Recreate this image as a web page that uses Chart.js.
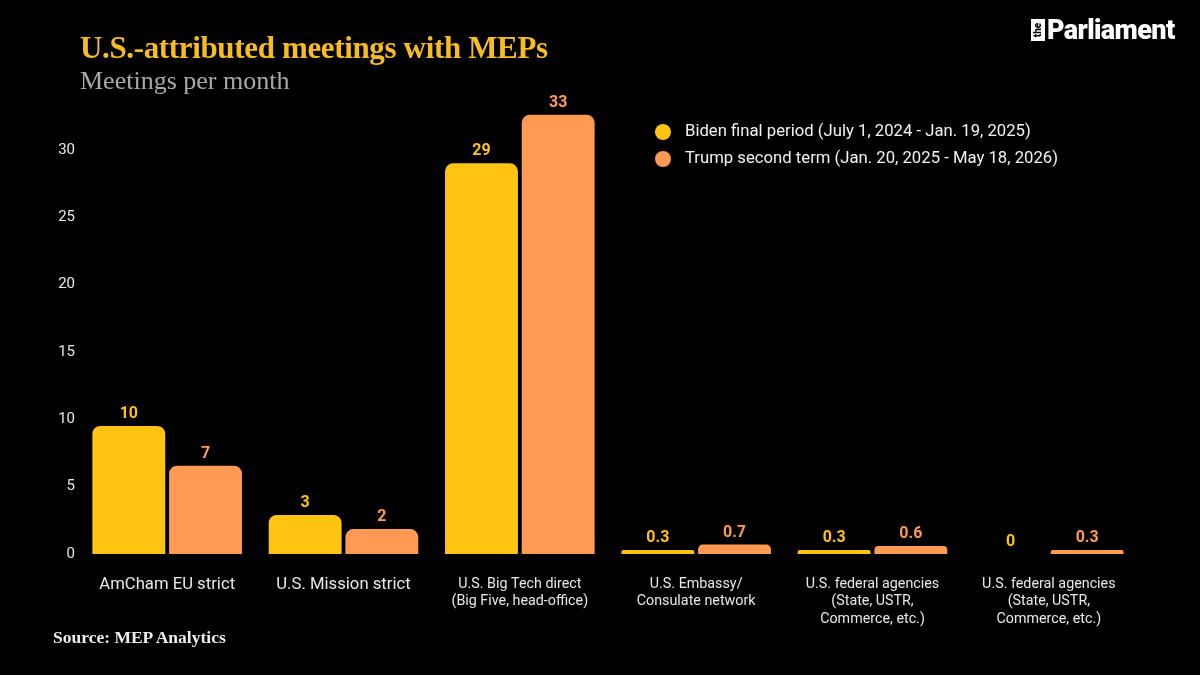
<!DOCTYPE html>
<html>
<head>
<meta charset="utf-8">
<script src="https://cdn.jsdelivr.net/npm/chart.js@4.4.1/dist/chart.umd.min.js"></script>
<style>
  html, body { margin: 0; padding: 0; background: #000; }
  #wrap { position: relative; width: 1200px; height: 675px; background: #000; overflow: hidden; }
  #c { position: absolute; left: 0; top: 0; }
  .title { position: absolute; left: 80px; top: 30px; font-family: 'Liberation Serif', serif; font-weight: bold; font-size: 31px; color: #F7BC22; letter-spacing: -0.35px; white-space: nowrap; }
  .sub { position: absolute; left: 80px; top: 66px; font-family: 'Liberation Serif', serif; font-size: 26px; color: #A9A9A9; white-space: nowrap; }
  .source { position: absolute; left: 53px; top: 627px; font-family: 'Liberation Serif', serif; font-weight: bold; font-size: 17.5px; color: #EDEDED; white-space: nowrap; }
  .logo { position: absolute; left: 1031px; top: 18px; height: 24px; display: flex; align-items: center; }
  .logo .the { width: 14px; height: 22px; background: #fff; position: relative; margin-right: 2px; }
  .logo .the span { position: absolute; left: 50%; top: 50%; transform: translate(-50%, -50%) rotate(-90deg); font-family: Roboto, sans-serif; font-weight: 900; font-size: 10px; color: #000; line-height: 1; }
  .logo .name { font-family: Roboto, sans-serif; font-weight: 900; font-size: 27px; color: #fff; letter-spacing: -0.6px; line-height: 1; }
</style>
</head>
<body>
<div id="wrap">
  <canvas id="c" width="1200" height="675"></canvas>
  <div class="title">U.S.-attributed meetings with MEPs</div>
  <div class="sub">Meetings per month</div>
  <div class="source">Source: MEP Analytics</div>
  <div class="logo"><div class="the"><span>the</span></div><div class="name">Parliament</div></div>
</div>
<script>
const categories = [
  'AmCham EU strict',
  'U.S. Mission strict',
  ['U.S. Big Tech direct', '(Big Five, head-office)'],
  ['U.S. Embassy/', 'Consulate network'],
  ['U.S. federal agencies', '(State, USTR,', 'Commerce, etc.)'],
  ['U.S. federal agencies', '(State, USTR,', 'Commerce, etc.)']
];
const bidenValues = [9.5, 2.9, 29.0, 0.3, 0.3, 0];
const trumpValues = [6.55, 1.85, 32.6, 0.7, 0.6, 0.3];
const seriesNames = [
  'Biden final period (July 1, 2024 - Jan. 19, 2025)',
  'Trump second term (Jan. 20, 2025 - May 18, 2026)'
];
const yTickStep = 5;
const yMax = 34;

const YELLOW = '#FFC412';
const ORANGE = '#FF9A55';

function fmt(v) {
  if (v === 0) return '0';
  if (v >= 1) return String(Math.round(v));
  return v.toFixed(1);
}

const valueLabels = {
  id: 'valueLabels',
  afterDatasetsDraw(chart) {
    const ctx = chart.ctx;
    ctx.save();
    ctx.font = 'bold 16px Roboto, sans-serif';
    ctx.textAlign = 'center';
    ctx.textBaseline = 'middle';
    chart.data.datasets.forEach((ds, di) => {
      const meta = chart.getDatasetMeta(di);
      meta.data.forEach((bar, i) => {
        ctx.fillStyle = ds.backgroundColor;
        ctx.fillText(fmt(ds.data[i]), bar.x, bar.y - 12);
      });
    });
    ctx.restore();
  }
};

const customLegend = {
  id: 'customLegend',
  afterDraw(chart) {
    const ctx = chart.ctx;
    ctx.save();
    ctx.font = '16.7px Roboto, sans-serif';
    ctx.textBaseline = 'middle';
    ctx.textAlign = 'left';
    chart.data.datasets.forEach((ds, i) => {
      const y = 132 + i * 27;
      ctx.fillStyle = ds.backgroundColor;
      ctx.beginPath();
      ctx.arc(663, y, 8, 0, Math.PI * 2);
      ctx.fill();
      ctx.fillStyle = '#F2F2F2';
      ctx.fillText(ds.label, 685, y);
    });
    ctx.restore();
  }
};

new Chart(document.getElementById('c'), {
  type: 'bar',
  data: {
    labels: categories,
    datasets: [
      { label: seriesNames[0], data: bidenValues, backgroundColor: YELLOW,
        borderRadius: { topLeft: 8, topRight: 8, bottomLeft: 0, bottomRight: 0 }, borderSkipped: 'start' },
      { label: seriesNames[1], data: trumpValues, backgroundColor: ORANGE,
        borderRadius: { topLeft: 8, topRight: 8, bottomLeft: 0, bottomRight: 0 }, borderSkipped: 'start' }
    ]
  },
  options: {
    responsive: false,
    animation: false,
    devicePixelRatio: 1,
    categoryPercentage: 0.87,
    barPercentage: 0.95,
    layout: { padding: { left: 0, right: 63, top: 96, bottom: 41 } },
    plugins: { legend: { display: false }, tooltip: { enabled: false }, title: { display: false } },
    scales: {
      x: {
        grid: { display: false },
        border: { display: false },
        afterFit(scale) { scale.height = 80; },
        ticks: {
          color: '#E8E8E8',
          maxRotation: 0,
          autoSkip: false,
          padding: 13,
          font: (c) => Array.isArray(categories[c.index]) ? { family: 'Roboto, sans-serif', size: 14.3, lineHeight: 1.25 } : { family: 'Roboto, sans-serif', size: 16.7 }
        }
      },
      y: {
        min: 0,
        max: yMax,
        grid: { display: false },
        border: { display: false },
        afterFit(scale) { scale.width = 79; },
        ticks: {
          stepSize: yTickStep,
          includeBounds: false,
          color: '#E8E8E8',
          padding: -4,
          font: { family: 'Roboto, sans-serif', size: 15 }
        }
      }
    }
  },
  plugins: [valueLabels, customLegend]
});
</script>
</body>
</html>
